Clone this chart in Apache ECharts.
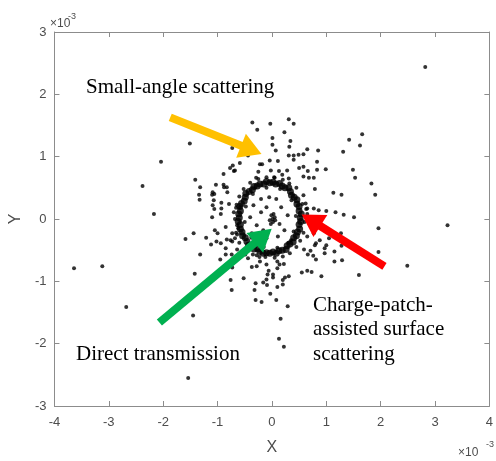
<!DOCTYPE html>
<html>
<head>
<meta charset="utf-8">
<script src="https://cdn.jsdelivr.net/npm/echarts@6/dist/echarts.min.js"></script>
<style>
html, body { margin: 0; padding: 0; background: #fff; }
#chart { width: 496px; height: 461px; }
</style>
</head>
<body>
<div id="chart"></div>
<script>
// all values in units of 1e-3 (axes show x10^-3)
const xTicks = [-4, -3, -2, -1, 0, 1, 2, 3, 4];
const yTicks = [-3, -2, -1, 0, 1, 2, 3];

// dense ring (charge-patch scattering)
const ringPoints = [
    [0.52, 0.02], [0.54, 0.08], [0.50, 0.13], [0.50, 0.20], [0.46, 0.24], [0.46, 0.31], [0.41, 0.35], [0.36, 0.38],
    [0.34, 0.44], [0.31, 0.50], [0.24, 0.50], [0.19, 0.53], [0.14, 0.57], [0.07, 0.56], [0.02, 0.59],
    [-0.04, 0.58], [-0.10, 0.60], [-0.15, 0.56], [-0.22, 0.56], [-0.27, 0.53], [-0.33, 0.52], [-0.36, 0.47],
    [-0.42, 0.44], [-0.48, 0.41], [-0.49, 0.35], [-0.51, 0.29], [-0.56, 0.25], [-0.59, 0.20], [-0.58, 0.13], [-0.61, 0.08],
    [-0.60, 0.02], [-0.62, -0.04], [-0.58, -0.09], [-0.58, -0.16], [-0.55, -0.21], [-0.54, -0.27], [-0.49, -0.30],
    [-0.46, -0.36], [-0.43, -0.42], [-0.37, -0.43], [-0.33, -0.48], [-0.26, -0.48], [-0.22, -0.52], [-0.16, -0.55], [-0.10, -0.54],
    [-0.04, -0.55], [0.02, -0.53], [0.08, -0.55], [0.13, -0.51], [0.19, -0.50], [0.26, -0.49], [0.28, -0.43],
    [0.33, -0.40], [0.39, -0.37], [0.40, -0.30], [0.45, -0.27], [0.47, -0.21], [0.51, -0.16], [0.50, -0.09], [0.53, -0.04]
];

// loose points hugging the ring on both sides
const ringFuzz = [
    [-0.10, 0.67], [0.05, 0.66], [0.20, 0.63], [-0.25, 0.64], [0.32, 0.57], [0.45, 0.50],
    [0.58, 0.38], [0.62, 0.25], [0.60, -0.05], [0.58, -0.22], [0.52, -0.35], [0.45, -0.45],
    [0.33, -0.55], [0.20, -0.60], [0.05, -0.62], [-0.12, -0.61], [-0.28, -0.58],
    [-0.48, -0.50], [-0.60, -0.38], [-0.66, -0.22], [-0.68, 0.00], [-0.66, 0.18], [-0.60, 0.36], [-0.52, 0.48], [-0.40, 0.58],
    [0.44, 0.05], [0.40, -0.20], [0.30, -0.38], [0.10, -0.46], [-0.15, -0.45], [-0.38, -0.30],
    [-0.50, -0.05], [-0.48, 0.20], [-0.35, 0.40], [-0.10, 0.50], [0.15, 0.48], [0.36, 0.30]
];

// points inside the ring (direct transmission)
const innerPoints = [
    [-0.20, 0.32], [-0.05, 0.35], [0.08, 0.32], [-0.34, 0.22], [-0.10, 0.19], [0.17, 0.19], [-0.20, 0.11],
    [-0.40, 0.03], [-0.01, 0.06], [0.05, 0.03], [0.01, 0.00], [-0.04, -0.02], [0.02, -0.05], [0.14, -0.08],
    [0.29, 0.06], [-0.28, -0.10], [-0.16, -0.18], [0.23, -0.18], [-0.37, -0.23], [0.11, -0.28], [-0.10, -0.31],
    [0.35, -0.34], [-0.25, -0.38], [0.03, 0.08], [-0.02, -0.08], [0.06, -0.02]
];

// scattered points (small-angle scattering)
const scatterPoints = [
    [-3.64, -0.79], [-3.12, -0.76], [-2.68, -1.41], [2.82, 2.44], [3.23, -0.10], [-1.54, -2.55], [-2.38, 0.53],
    [-2.17, 0.08], [-2.04, 0.92], [-1.51, 1.21], [2.49, -0.75], [1.96, -0.53], [1.96, -0.15], [1.60, -0.90], [0.91, -0.92],
    [-0.73, 1.14], [-0.59, 0.90], [-0.72, 0.86], [-0.77, 0.82], [-0.68, 0.78], [-0.89, 0.72], [-1.41, 0.63],
    [-1.32, 0.51], [-1.03, 0.55], [-0.89, 0.55], [-0.83, 0.51], [-1.09, 0.43], [-1.06, 0.40], [-1.10, 0.39],
    [-1.34, 0.39], [-1.33, 0.31], [-1.07, 0.30], [-0.93, 0.26], [-0.93, 0.17], [-0.65, 0.23], [-0.59, 0.19], [-1.10, 0.03],
    [-0.36, 1.55], [-0.03, 1.53], [0.31, 1.60], [0.40, 1.53], [-0.27, 1.43], [0.23, 1.39], [0.01, 1.30], [0.34, 1.25],
    [0.01, 1.19], [0.32, 1.16], [0.07, 1.10], [0.65, 1.12], [0.85, 1.10], [1.31, 1.08], [0.31, 1.02], [0.40, 1.02],
    [0.49, 1.03], [0.58, 1.04], [-0.44, 1.02], [0.40, 0.95], [0.83, 0.92], [-0.04, 0.94], [0.11, 0.93], [-0.22, 0.88],
    [-0.18, 0.88], [0.58, 0.84], [0.99, 0.80], [0.66, 0.77], [0.83, 0.79], [-0.25, 0.76], [-0.02, 0.78], [0.13, 0.77],
    [0.28, 0.78], [-0.29, 0.66], [0.04, 0.67], [0.19, 0.71], [0.31, 0.65], [0.58, 0.68], [0.77, 0.66], [0.79, 0.48],
    [1.13, 0.42], [1.28, 0.39], [1.17, 0.11], [1.32, 0.07], [0.65, 0.17], [0.77, 0.17], [0.86, 0.14], [1.00, 0.13],
    [1.66, 1.36], [1.42, 1.27], [1.62, 1.18], [1.49, 0.79], [1.53, 0.66], [1.83, 0.57], [1.90, 0.39], [1.51, 0.03],
    [-0.70, 0.77], [0.50, 0.82], [0.68, 0.66],
    [-0.88, 0.51], [-0.82, 0.43], [-1.09, 0.22], [-1.06, 0.16], [-0.94, 0.08], [-0.79, 0.24], [-0.70, 0.11],
    [-0.64, -0.10], [-0.85, -0.13], [-0.73, -0.23], [-1.00, -0.23], [-0.76, -0.34], [-0.94, -0.39], [-0.64, -0.49], [-0.49, -0.57],
    [0.56, 0.24], [0.63, 0.16], [0.65, 0.08], [0.68, -0.02], [0.74, -0.10], [0.77, -0.23], [0.65, -0.28], [0.81, -0.39],
    [-1.44, -0.23], [-1.59, -0.32], [-1.05, -0.18], [-1.21, -0.30], [-1.02, -0.36], [-1.12, -0.41], [-0.83, -0.33],
    [-0.73, -0.36], [-0.68, -0.31], [-0.64, -0.25], [-0.62, -0.15], [-0.85, -0.47], [-0.85, -0.57], [-0.74, -0.57],
    [-1.32, -0.57], [-0.95, -0.65], [-1.42, -0.88], [-0.73, -0.78], [-0.76, -0.98], [-0.74, -1.14], [-1.45, -1.55],
    [-0.52, -0.95], [-0.37, -0.77], [-0.28, -0.76], [-0.44, -0.63], [-0.35, -0.57], [-0.23, -0.61], [-0.22, -0.68],
    [-0.10, -0.73], [-0.06, -0.83], [0.02, -0.89], [-0.08, -0.89], [0.10, -0.79], [0.14, -0.73], [0.22, -0.72],
    [0.10, -0.68], [-0.30, -1.03], [-0.16, -1.02], [-0.10, -0.97], [0.02, -0.94], [0.20, -0.98], [0.20, -1.05],
    [0.10, -1.09], [-0.30, -1.30], [-0.19, -1.33], [-0.03, -1.20], [0.08, -1.30], [0.29, -1.40], [0.16, -1.60],
    [0.13, -1.92], [0.22, -2.05], [-0.32, -1.14], [-0.09, -1.06], [0.24, -0.94], [0.31, -0.92],
    [0.55, -0.86], [0.65, -0.83], [0.73, -0.85], [0.66, -0.57], [0.71, -0.51], [0.79, -0.42], [0.97, -0.55],
    [1.15, -0.68], [1.29, -0.66], [0.88, -0.34], [1.00, -0.42], [0.81, -0.65], [0.59, -0.49], [0.76, -0.59],
    [0.97, -0.47], [1.15, -0.52], [1.28, -0.43], [1.27, -0.23], [1.05, -0.31]
];

const axisGrey = '#8c8c8c';
const labelGrey = '#4d4d4d';
const sans = 'Liberation Sans, Arial, sans-serif';
const serif = 'Liberation Serif, Times New Roman, serif';

function makeX(pos, showLabel) {
    return {
        type: 'value', position: pos, min: xTicks[0], max: xTicks[xTicks.length - 1], interval: 1,
        axisLine: { show: true, onZero: false, lineStyle: { color: axisGrey, width: 1 } },
        axisTick: { show: true, inside: true, length: 5, lineStyle: { color: axisGrey } },
        axisLabel: { show: showLabel, color: labelGrey, fontSize: 13, fontFamily: sans, margin: 10 },
        splitLine: { show: false },
        name: showLabel ? 'X' : '', nameLocation: 'middle', nameGap: 34,
        nameTextStyle: { color: labelGrey, fontSize: 16, fontFamily: sans }
    };
}
function makeY(pos, showLabel) {
    return {
        type: 'value', position: pos, min: yTicks[0], max: yTicks[yTicks.length - 1], interval: 1,
        axisLine: { show: true, onZero: false, lineStyle: { color: axisGrey, width: 1 } },
        axisTick: { show: true, inside: true, length: 5, lineStyle: { color: axisGrey } },
        axisLabel: { show: showLabel, color: labelGrey, fontSize: 13, fontFamily: sans, margin: 8 },
        splitLine: { show: false },
        name: showLabel ? 'Y' : '', nameLocation: 'middle', nameGap: 28,
        nameTextStyle: { color: labelGrey, fontSize: 16, fontFamily: sans }
    };
}

function arrow(from, to, color) {
    return [
        { coord: from, lineStyle: { color: color, width: 8, type: 'solid' }, itemStyle: { color: color } },
        { coord: to }
    ];
}

const chart = echarts.init(document.getElementById('chart'), null, { renderer: 'canvas' });
const option = {
    animation: false,
    backgroundColor: '#fff',
    grid: { left: 50, right: 1, top: 32, bottom: 49 },
    xAxis: [makeX('bottom', true), makeX('top', false)],
    yAxis: [makeY('left', true), makeY('right', false)],
    series: [
        {
            type: 'scatter', data: scatterPoints, symbolSize: 4,
            itemStyle: { color: '#000' }, silent: true,
            markLine: {
                silent: true, animation: false,
                symbol: ['none', 'triangle'], symbolSize: [26, 22],
                label: { show: false },
                data: [
                    arrow([-1.87, 1.63], [-0.38, 1.11], '#FFC000'),
                    arrow([-2.07, -1.66], [-0.16, -0.27], '#00B050'),
                    arrow([2.07, -0.76], [0.72, -0.02], '#FF0000')
                ]
            }
        },
        { type: 'scatter', data: ringPoints, symbolSize: 7, itemStyle: { color: '#000' }, silent: true },
        { type: 'scatter', data: ringFuzz, symbolSize: 4, itemStyle: { color: '#000' }, silent: true },
        { type: 'scatter', data: innerPoints, symbolSize: 4, itemStyle: { color: '#000' }, silent: true }
    ],
    graphic: [
        { type: 'text', left: 50, top: 18, style: { text: '\u00d710', fontSize: 12, fontFamily: sans, fill: labelGrey } },
        { type: 'text', left: 68, top: 12, style: { text: '-3', fontSize: 9, fontFamily: sans, fill: labelGrey } },
        { type: 'text', left: 458, top: 447, style: { text: '\u00d710', fontSize: 12, fontFamily: sans, fill: labelGrey } },
        { type: 'text', left: 486, top: 440, style: { text: '-3', fontSize: 9, fontFamily: sans, fill: labelGrey } },
        { type: 'text', left: 86, top: 77, style: { text: 'Small-angle scattering', fontSize: 21, fontFamily: serif, fill: '#000' } },
        { type: 'text', left: 76, top: 344, style: { text: 'Direct transmission', fontSize: 21, fontFamily: serif, fill: '#000' } },
        { type: 'text', left: 313, top: 293, style: { text: 'Charge-patch-\nassisted surface\nscattering', fontSize: 21, lineHeight: 24.5, fontFamily: serif, fill: '#000' } }
    ]
};
chart.setOption(option);
</script>
</body>
</html>
